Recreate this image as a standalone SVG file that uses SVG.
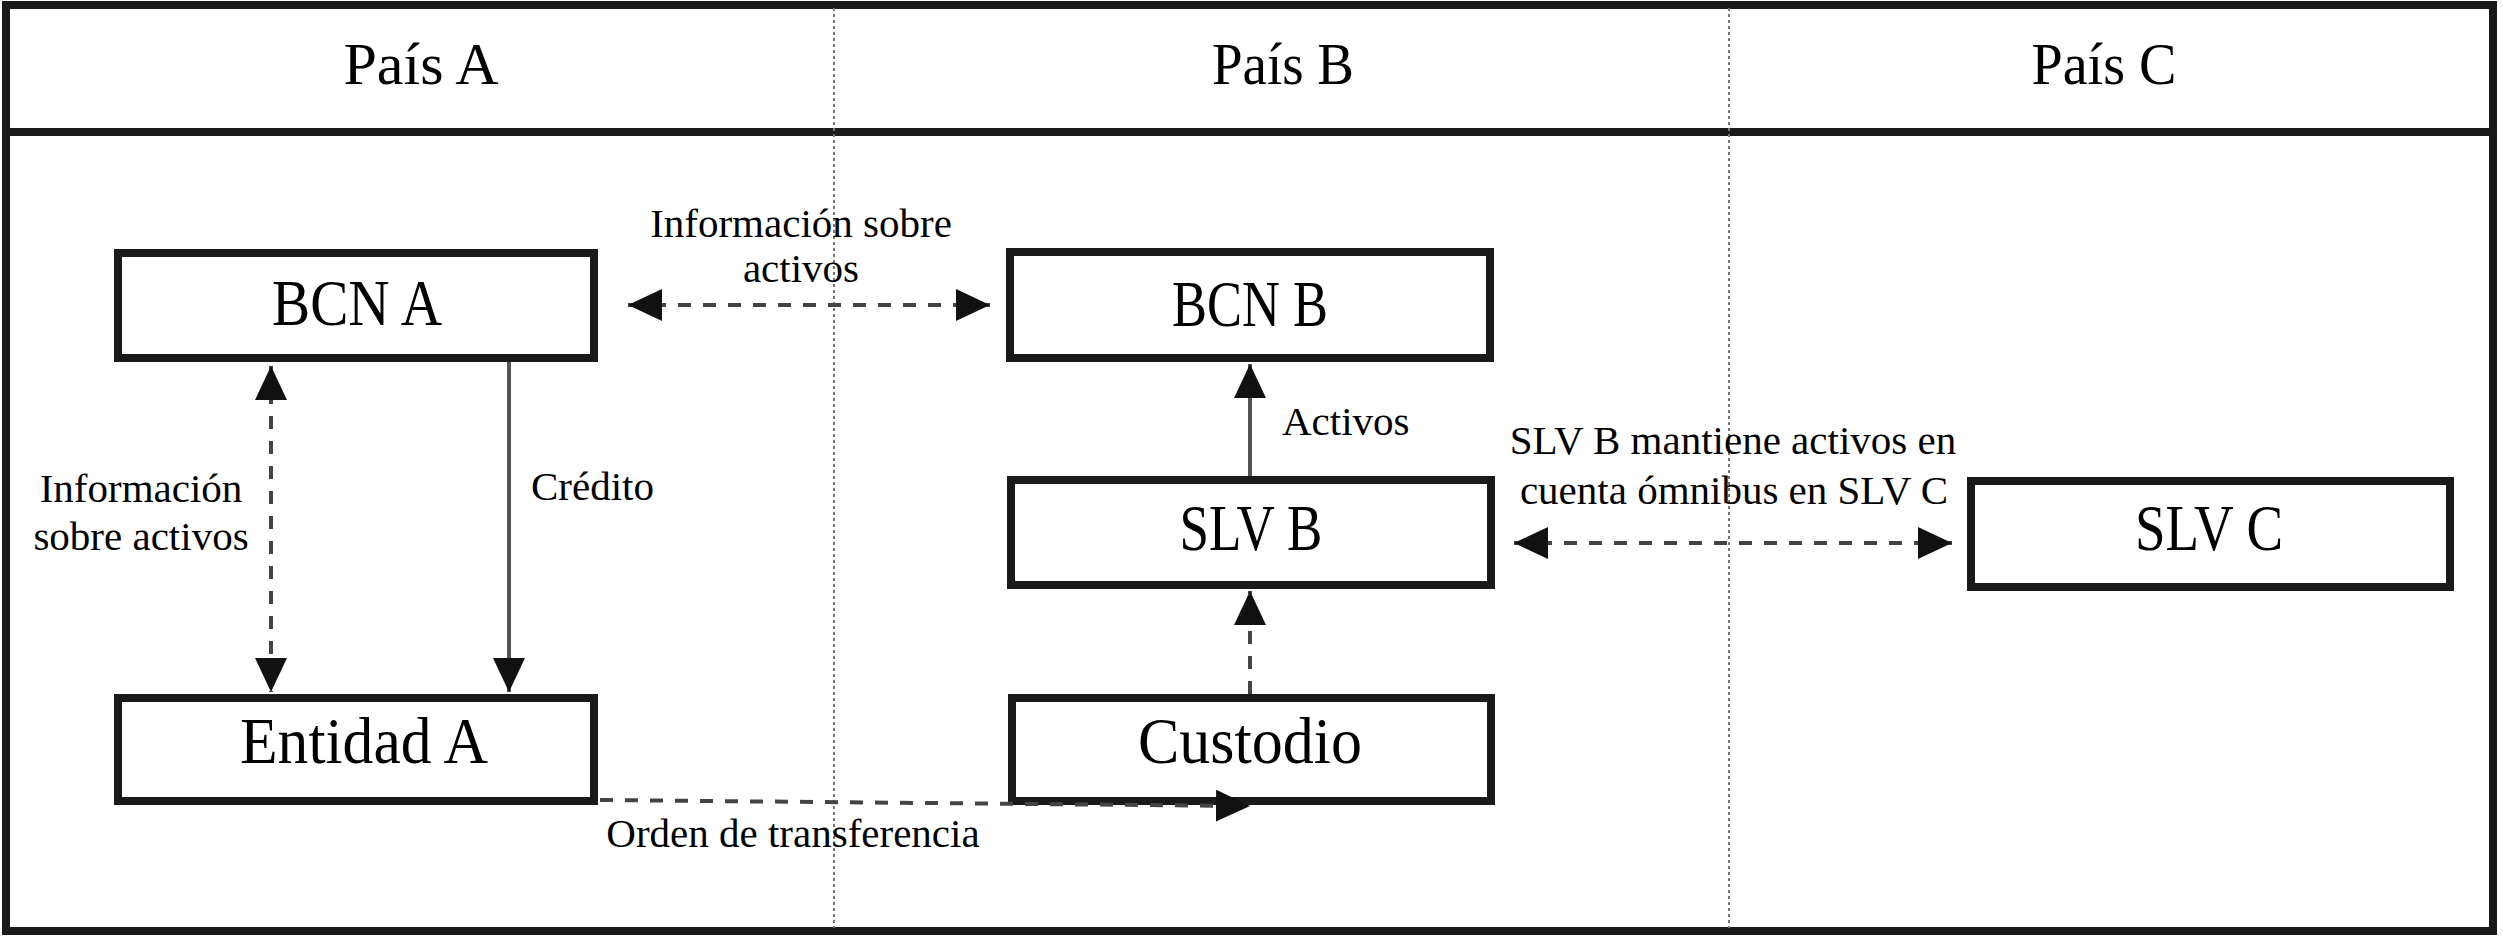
<svg xmlns="http://www.w3.org/2000/svg" width="2503" height="941" viewBox="0 0 2503 941">
<style>
  .frame { fill: none; stroke: #1a1a1a; stroke-width: 8; }
  .divider { stroke: #777; stroke-width: 2; stroke-dasharray: 3 3; fill: none; }
  .box { fill: #fff; stroke: #1a1a1a; stroke-width: 8; }
  .head { font-family: "Liberation Serif", "Times New Roman", serif; font-size: 60px; fill: #000; text-anchor: middle; }
  .node { font-family: "Liberation Serif", "Times New Roman", serif; font-size: 66px; fill: #000; text-anchor: middle; }
  .lbl { font-family: "Liberation Serif", "Times New Roman", serif; font-size: 41px; fill: #000; }
  .mid { text-anchor: middle; }
  .dash { fill: none; stroke: #444; stroke-width: 4; stroke-dasharray: 13 12; }
  .solid { fill: none; stroke: #555; stroke-width: 4; }
</style>
<defs>
  <marker id="ah" viewBox="0 0 34 32" refX="34" refY="16" markerWidth="34" markerHeight="32" markerUnits="userSpaceOnUse" orient="auto-start-reverse">
    <path d="M0,0 L34,16 L0,32 Z" fill="#111"/>
  </marker>
</defs>
<rect width="2503" height="941" fill="#fff"/>
<g id="frame">
  <rect class="frame" x="6" y="5" width="2487" height="926"/>
  <line class="frame" x1="6" y1="132" x2="2493" y2="132"/>
  <line class="divider" x1="834" y1="8" x2="834" y2="928"/>
  <line class="divider" x1="1729" y1="8" x2="1729" y2="928"/>
  <text class="head" x="421" y="84" textLength="155" lengthAdjust="spacingAndGlyphs">País A</text>
  <text class="head" x="1283" y="84" textLength="142" lengthAdjust="spacingAndGlyphs">País B</text>
  <text class="head" x="2104" y="84" textLength="145" lengthAdjust="spacingAndGlyphs">País C</text>
</g>
<g id="bcn-a">
  <rect class="box" x="118" y="253" width="476" height="105"/>
  <text class="node" x="357" y="325" textLength="170" lengthAdjust="spacingAndGlyphs">BCN A</text>
</g>
<g id="bcn-b">
  <rect class="box" x="1010" y="252" width="480" height="106"/>
  <text class="node" x="1250" y="326" textLength="156" lengthAdjust="spacingAndGlyphs">BCN B</text>
</g>
<g id="slv-b">
  <rect class="box" x="1011" y="480" width="480" height="105"/>
  <text class="node" x="1251" y="550" textLength="143" lengthAdjust="spacingAndGlyphs">SLV B</text>
</g>
<g id="slv-c">
  <rect class="box" x="1971" y="481" width="479" height="106"/>
  <text class="node" x="2209" y="550" textLength="148" lengthAdjust="spacingAndGlyphs">SLV C</text>
</g>
<g id="entidad-a">
  <rect class="box" x="118" y="698" width="476" height="103"/>
  <text class="node" x="364" y="763" textLength="248" lengthAdjust="spacingAndGlyphs">Entidad A</text>
</g>
<g id="custodio">
  <rect class="box" x="1012" y="698" width="479" height="103"/>
  <text class="node" x="1250" y="763" textLength="224" lengthAdjust="spacingAndGlyphs">Custodio</text>
</g>
<g id="connectors">
  <line class="dash" x1="628" y1="305" x2="990" y2="305" marker-start="url(#ah)" marker-end="url(#ah)"/>
  <text class="lbl mid" x="801" y="237">Información sobre</text>
  <text class="lbl mid" x="801" y="282">activos</text>
  <line class="dash" x1="271" y1="366" x2="271" y2="692" marker-start="url(#ah)" marker-end="url(#ah)"/>
  <text class="lbl mid" x="141" y="502">Información</text>
  <text class="lbl mid" x="141" y="550">sobre activos</text>
  <line class="solid" x1="509" y1="362" x2="509" y2="692" marker-end="url(#ah)"/>
  <text class="lbl" x="531" y="500">Crédito</text>
  <line class="solid" x1="1250" y1="476" x2="1250" y2="364" marker-end="url(#ah)"/>
  <text class="lbl" x="1282" y="435">Activos</text>
  <line class="dash" x1="1250" y1="694" x2="1250" y2="591" marker-end="url(#ah)"/>
  <line class="dash" x1="1514" y1="543" x2="1952" y2="543" marker-start="url(#ah)" marker-end="url(#ah)"/>
  <text class="lbl mid" x="1733" y="454">SLV B mantiene activos en</text>
  <text class="lbl mid" x="1734" y="504">cuenta ómnibus en SLV C</text>
  <line class="dash" x1="600" y1="800" x2="1250" y2="806" marker-end="url(#ah)"/>
  <text class="lbl mid" x="793" y="847">Orden de transferencia</text>
</g>
</svg>
